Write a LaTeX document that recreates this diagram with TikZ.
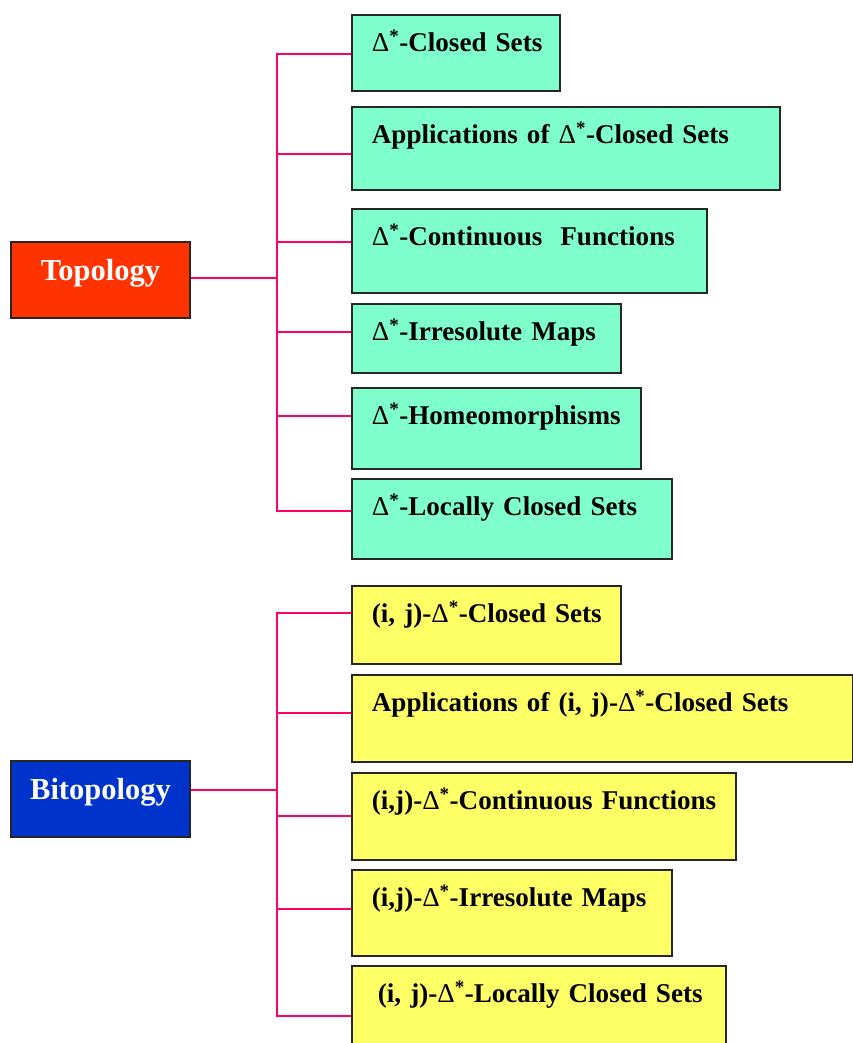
\documentclass[tikz,border=0pt]{standalone}
\usepackage{fontspec}
\setmainfont{Liberation Serif}
\usepackage{tikz}
\usetikzlibrary{positioning}
\usepackage{xcolor}
\definecolor{topored}{HTML}{FF3300}
\definecolor{bitoblue}{HTML}{0033CC}
\definecolor{aqua}{HTML}{7FFFCC}
\definecolor{lemon}{HTML}{FFFF66}
\definecolor{rosy}{HTML}{FF0066}
\newcommand{\Dstar}{{\mdseries Δ}\textsuperscript{*}}

\begin{document}
\begin{tikzpicture}[x=1pt, y=-1pt, every node/.style={font=\bfseries\fontsize{27.1}{32}\selectfont}]
\tikzstyle{root}=[draw=black!85, line width=2.2pt, text=white, minimum width=179pt, inner sep=0pt, text height=38pt, text depth=38pt, font=\bfseries\fontsize{30.5}{34}\selectfont]
\tikzstyle{leaf}=[draw=black!85, line width=1.8pt, anchor=north west, inner xsep=20pt, inner ysep=0pt, text height=37pt, align=left, execute at begin node={\hbox\bgroup}, execute at end node={\egroup}]
\tikzstyle{link}=[draw=rosy, line width=1.8pt]
\useasboundingbox (0,0) rectangle (853,1043);
% left side
\node[root, fill=topored] (topo) at (100.5,280) {Topology};
\node[root, fill=bitoblue] (bito) at (100.5,799) {Bitopology};
% topology branch
\node[leaf, fill=aqua, text width=168pt, text depth=39pt] (t1) at (351,14) {\Dstar-Closed Sets};
\node[leaf, fill=aqua, text width=388pt, text depth=46pt] (t2) at (351,106) {Applications of \Dstar-Closed Sets};
\node[leaf, fill=aqua, text width=315pt, text depth=47pt] (t3) at (351,208) {\Dstar-Continuous\ \ Functions};
\node[leaf, fill=aqua, text width=229pt, text depth=32pt] (t4) at (351,303) {\Dstar-Irresolute Maps};
\node[leaf, fill=aqua, text width=249pt, text depth=44pt] (t5) at (351,387) {\Dstar-Homeomorphisms};
\node[leaf, fill=aqua, text width=280pt, text depth=43pt] (t6) at (351,478) {\Dstar-Locally Closed Sets};
% bitopology branch
\node[leaf, fill=lemon, text width=229pt, text depth=41pt] (y1) at (351,585) {(i, j)-\Dstar-Closed Sets};
\node[leaf, fill=lemon, text width=461pt, text depth=50pt] (y2) at (351,674) {Applications of (i, j)-\Dstar-Closed Sets};
\node[leaf, fill=lemon, text width=344pt, text depth=50pt] (y3) at (351,772) {(i,j)-\Dstar-Continuous Functions};
\node[leaf, fill=lemon, text width=280pt, text depth=49pt] (y4) at (351,869) {(i,j)-\Dstar-Irresolute Maps};
\node[leaf, fill=lemon, inner xsep=26pt, text width=322pt, text depth=48pt] (y5) at (351,965) {(i, j)-\Dstar-Locally Closed Sets};
% connectors
\coordinate (bus) at (277,0);
\foreach \n/\d in {t1/40,t2/48,t3/34,t4/29,t5/29,t6/33,y1/28,y2/39,y3/44,y4/40,y5/51}
  \coordinate (\n-in) at ([yshift=-\d pt]\n.north west);
\coordinate (topo-out) at ([yshift=2pt]topo.east);
\coordinate (bito-out) at ([yshift=9pt]bito.east);
\draw[link] (t1-in) -| (bus |- t6-in) -- (t6-in);
\foreach \n in {t2,t3,t4,t5}
  \draw[link] (bus |- \n-in) -- (\n-in);
\draw[link] (topo-out) -- (bus |- topo-out);
\draw[link] (y1-in) -| (bus |- y5-in) -- (y5-in);
\foreach \n in {y2,y3,y4}
  \draw[link] (bus |- \n-in) -- (\n-in);
\draw[link] (bito-out) -- (bus |- bito-out);
\end{tikzpicture}
\end{document}
